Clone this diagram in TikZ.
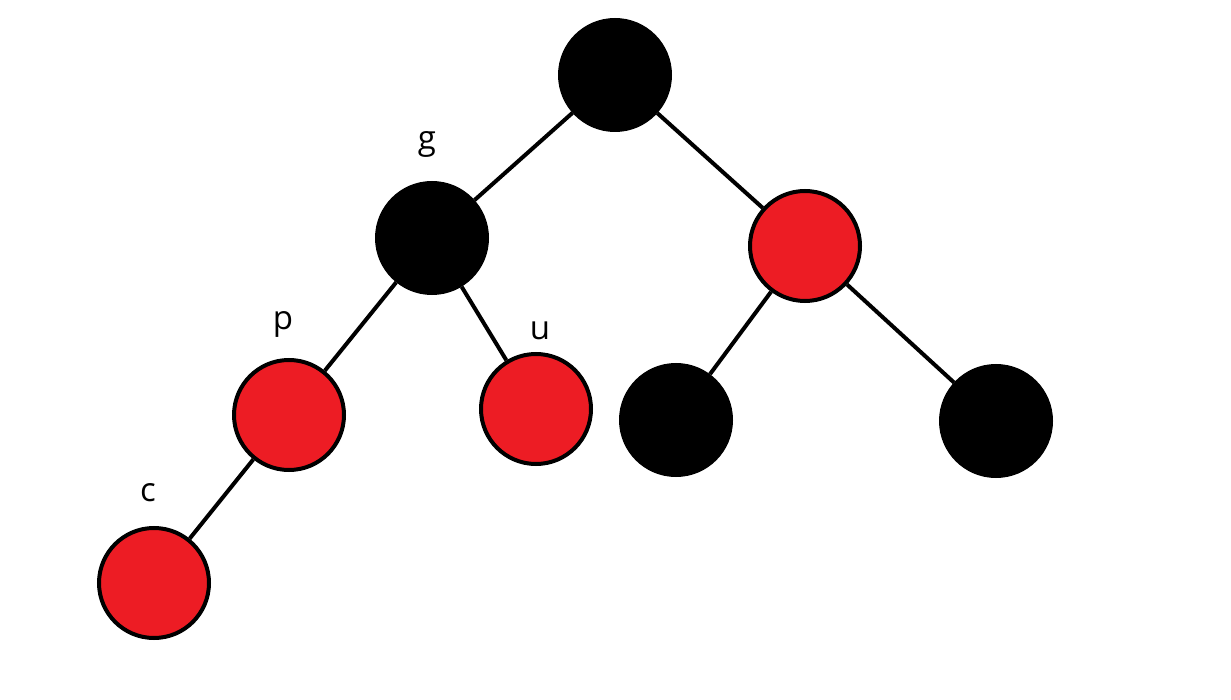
\documentclass[tikz,border=0pt]{standalone}
\usepackage{fontspec}
\setmainfont{Open Sans}
\definecolor{pred}{HTML}{ED1C24}
\begin{document}
\begin{tikzpicture}[x=1pt,y=-1pt,
  nd/.style={circle,draw=black,line width=4pt,minimum size=110pt,inner sep=0pt},
  bk/.style={nd,fill=black},
  rd/.style={nd,fill=pred},
  edge/.style={line width=4pt},
  lbl/.style={font=\fontsize{33}{40}\selectfont}]
\useasboundingbox (0,0) rectangle (1231,700);
\fill[white] (0,0) rectangle (1231,700);
\node[bk] (root) at (615,75) {};
\node[bk] (g) at (432,238) {};
\node[rd] (r) at (805,246) {};
\node[rd] (p) at (289,415) {};
\node[rd] (u) at (536,409) {};
\node[bk] (rl) at (676,420) {};
\node[bk] (rr) at (996,421) {};
\node[rd] (c) at (154,583) {};
\draw[edge] (root) -- (g);
\draw[edge] (root) -- (r);
\draw[edge] (g) -- (p);
\draw[edge] (g) -- (u);
\draw[edge] (r) -- (rl);
\draw[edge] (r) -- (rr);
\draw[edge] (p) -- (c);
\node[lbl] (lg) at (427,144) {g};
\node[lbl] (lp) at (283,324) {p};
\node[lbl] (lu) at (540,331) {u};
\node[lbl] (lc) at (148,493) {c};
\end{tikzpicture}
\end{document}
